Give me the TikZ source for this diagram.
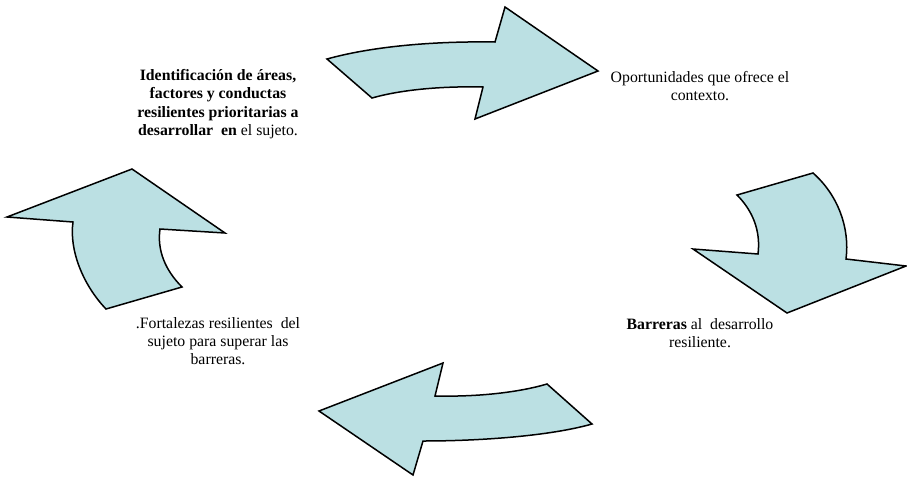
\documentclass[tikz,border=0pt]{standalone}
\usepackage{fontspec}
\setmainfont{Liberation Serif}
\usetikzlibrary{positioning}

\definecolor{celeste}{RGB}{187,224,227}

\begin{document}
\begin{tikzpicture}[
  x=1pt, y=-1pt,
  texto/.style={align=center, inner sep=0pt, font=\fontsize{15.8}{18.3}\selectfont},
  flecha/.style={draw=black, fill=celeste, line width=1.5pt, line join=miter}
]
\useasboundingbox (0,0) rectangle (907,477);

\node[texto] (ident) at (218,104) {\textbf{Identificación de áreas,}\\
  \textbf{factores y conductas}\\
  \textbf{resilientes prioritarias a}\\
  \textbf{desarrollar\ \ en} el sujeto.};
\node[texto] (oport) at (700,86) {Oportunidades que ofrece el\\contexto.};
\node[texto] (barr) at (700,333) {\textbf{Barreras} al\ \ desarrollo\\resiliente.};
\node[texto] (fort) at (218,341) {.Fortalezas resilientes\ \ del\\sujeto para superar las\\barreras.};

% flecha superior
\draw[flecha] (327,59) .. controls (370,47) and (430,41) .. (495,42)
  -- (505,7) -- (598,71) -- (475,119) -- (483,87)
  .. controls (440,86) and (400,90) .. (372,98) -- cycle;

% flecha derecha
\draw[flecha] (737,195) -- (813,173) .. controls (838,195) and (850,228) .. (846,259)
  -- (906,266) -- (787,313) -- (693,249) -- (758,254)
  .. controls (761,230) and (752,210) .. cycle;

% flecha inferior
\draw[flecha] (547,384) -- (592,424) .. controls (550,436) and (480,441) .. (423,441)
  -- (413,475) -- (319,411) -- (443,363) -- (435,396)
  .. controls (480,397) and (520,392) .. cycle;

% flecha izquierda
\draw[flecha] (106,309) -- (182,287) .. controls (165,270) and (157,250) .. (160,229)
  -- (225,233) -- (132,169) -- (7,217) -- (73,222)
  .. controls (69,250) and (83,285) .. cycle;

\end{tikzpicture}
\end{document}
